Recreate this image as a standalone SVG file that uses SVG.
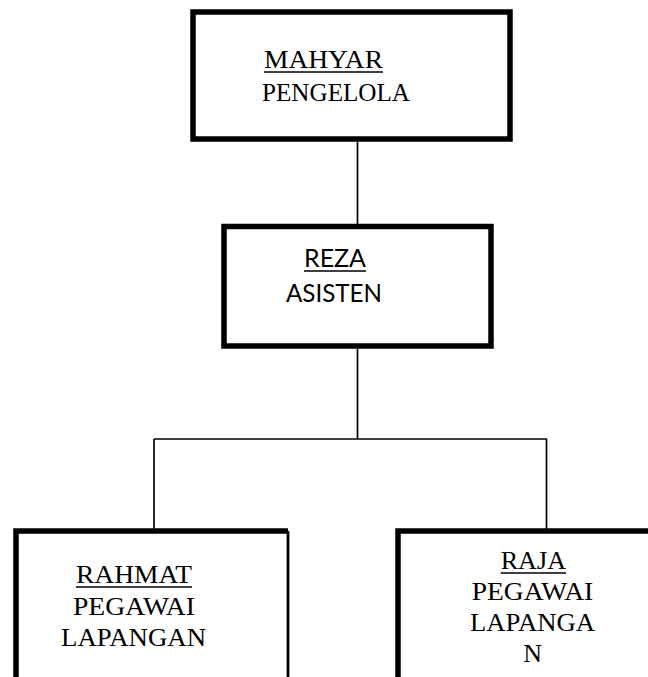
<svg xmlns="http://www.w3.org/2000/svg" width="648" height="677" viewBox="0 0 648 677">
<style>
.box{fill:none;stroke:#000;stroke-width:5.5}
.thin{fill:none;stroke:#000;stroke-width:2.8}
.conn{fill:none;stroke:#000;stroke-width:1.7}
.serif{font-family:"Liberation Serif","Times New Roman",serif;font-size:26px;fill:#000}
.sans{font-family:Lato,"Liberation Sans",sans-serif;font-size:25px;fill:#000}
.ul{stroke:#000;stroke-width:1.6}
</style>
<rect width="648" height="677" fill="#fff"/>
<g id="connectors">
<line class="conn" x1="357.5" y1="142" x2="357.5" y2="224"/>
<line class="conn" x1="357.5" y1="349" x2="357.5" y2="439"/>
<line class="conn" x1="154" y1="439" x2="547" y2="439"/>
<line class="conn" x1="154" y1="439" x2="154" y2="529"/>
<line class="conn" x1="546.5" y1="439" x2="546.5" y2="529"/>
</g>
<g id="node-mahyar">
<rect class="box" x="193" y="12" width="317" height="127"/>
<text class="serif" x="264" y="68" textLength="119" lengthAdjust="spacingAndGlyphs">MAHYAR</text>
<line class="ul" x1="264" y1="72" x2="383" y2="72"/>
<text class="serif" x="262" y="100.5" textLength="148" lengthAdjust="spacingAndGlyphs">PENGELOLA</text>
</g>
<g id="node-reza">
<rect class="box" x="224" y="226.5" width="267" height="119.5"/>
<text class="sans" x="304" y="267.3" textLength="62" lengthAdjust="spacingAndGlyphs">REZA</text>
<line class="ul" x1="304" y1="271" x2="366" y2="271"/>
<text class="sans" x="286" y="301.7" textLength="96" lengthAdjust="spacingAndGlyphs">ASISTEN</text>
</g>
<g id="node-rahmat">
<path class="box" d="M16 690 V531 H288"/>
<path class="thin" d="M288 531 V690"/>
<text class="serif" x="76" y="583" textLength="116" lengthAdjust="spacingAndGlyphs">RAHMAT</text>
<line class="ul" x1="76" y1="587" x2="192" y2="587"/>
<text class="serif" x="73" y="615" textLength="122" lengthAdjust="spacingAndGlyphs">PEGAWAI</text>
<text class="serif" x="61" y="646" textLength="145" lengthAdjust="spacingAndGlyphs">LAPANGAN</text>
</g>
<g id="node-raja">
<path class="box" d="M398 690 V531 H660"/>
<text class="serif" x="500.7" y="569.3" textLength="65.3" lengthAdjust="spacingAndGlyphs">RAJA</text>
<line class="ul" x1="500.7" y1="573" x2="566" y2="573"/>
<text class="serif" x="471.7" y="600" textLength="121.6" lengthAdjust="spacingAndGlyphs">PEGAWAI</text>
<text class="serif" x="470" y="630.7" textLength="125" lengthAdjust="spacingAndGlyphs">LAPANGA</text>
<text class="serif" x="523.3" y="661.7">N</text>
</g>
</svg>
